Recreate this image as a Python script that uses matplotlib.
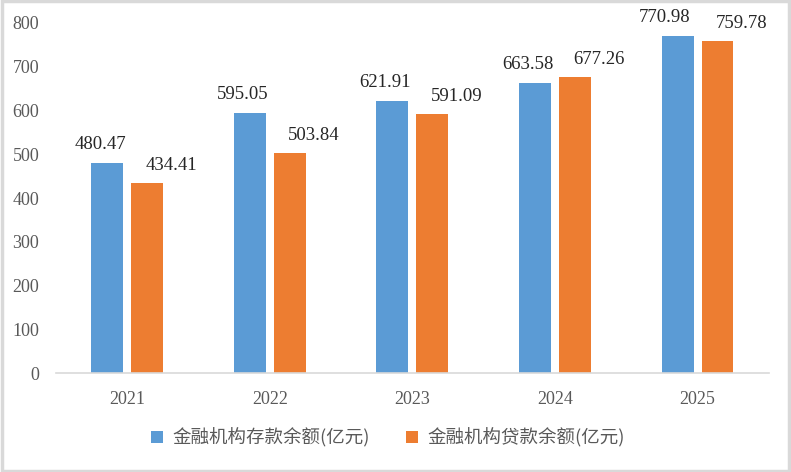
import matplotlib
matplotlib.use("Agg")
import matplotlib.pyplot as plt
import matplotlib.patches as mpatches
import numpy as np

anos = ["2021", "2022", "2023", "2024", "2025"]
deposito = [480.47, 595.05, 621.91, 663.58, 770.98]
emprestimo = [434.41, 503.84, 591.09, 677.26, 759.78]
nome_dep = "金融机构存款余额(亿元)"
nome_emp = "金融机构贷款余额(亿元)"

AZUL = "#5B9BD5"
LARANJA = "#ED7D31"
CINZA = "#595959"
SERIF = "Liberation Serif"

fig = plt.figure(figsize=(7.91, 4.72), dpi=100)
ax = fig.add_axes([0.0708, 0.2097, 0.9012, 0.7416])

x = np.arange(len(anos))
larg = 0.224
desl = 0.14
b1 = ax.bar(x - desl, deposito, width=larg, color=AZUL, label=nome_dep)
b2 = ax.bar(x + desl, emprestimo, width=larg, color=LARANJA, label=nome_emp)

# rotulos deslocados pra fora, igual ao excel
for i, (b, v) in enumerate(zip(b1, deposito)):
    dx = -13 if i == len(anos) - 1 else -7
    ax.annotate(f"{v:.2f}", (b.get_x() + b.get_width() / 2, v), xytext=(dx, 10),
                textcoords="offset pixels", ha="center", va="bottom",
                fontsize=13.5, family=SERIF, color="#262626")
for b, v in zip(b2, emprestimo):
    ax.annotate(f"{v:.2f}", (b.get_x() + b.get_width() / 2, v), xytext=(24, 9),
                textcoords="offset pixels", ha="center", va="bottom",
                fontsize=13.5, family=SERIF, color="#262626")

ax.set_xlim(-0.5, len(anos) - 0.5)
ax.set_ylim(0, 800)
ax.set_yticks(range(0, 801, 100))
ax.set_xticks(x)
ax.set_xticklabels(anos)
for lab in ax.get_xticklabels() + ax.get_yticklabels():
    lab.set_family(SERIF)
    lab.set_fontsize(13)
    lab.set_color(CINZA)
ax.tick_params(length=0)
ax.tick_params(axis="x", pad=13)
ax.tick_params(axis="y", pad=12)
for s in ["top", "right", "left"]:
    ax.spines[s].set_visible(False)
ax.spines["bottom"].set_color("#D9D9D9")
ax.spines["bottom"].set_linewidth(1.2)

leg = fig.legend(handles=[b1, b2], loc="center", bbox_to_anchor=(388 / 791, 1 - 438 / 472),
                 ncol=2, frameon=False, handlelength=0.65, handleheight=0.65,
                 handletextpad=0.5, columnspacing=2.0,
                 prop={"family": ["Noto Sans CJK SC", "DejaVu Sans"], "size": 13.3, "weight": "light"})
for t in leg.get_texts():
    t.set_color(CINZA)

# moldura cinza em volta da figura
fig.patches.append(mpatches.Rectangle((0.002, 0.003), 0.996, 0.994, transform=fig.transFigure,
                                      fill=False, edgecolor="#D9D9D9", linewidth=2.5))

fig.savefig("out.png", dpi=100)
